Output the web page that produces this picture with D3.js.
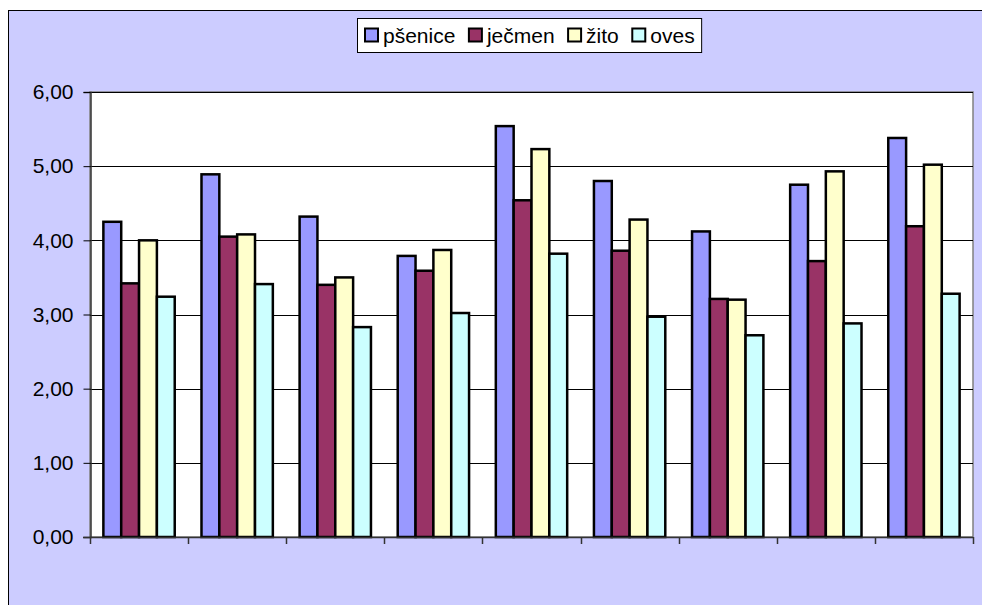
<!DOCTYPE html>
<html>
<head>
<meta charset="utf-8">
<script src="https://cdn.jsdelivr.net/npm/d3@7"></script>
<style>
  body { margin: 0; background: #ffffff; }
  svg { display: block; font-family: "Liberation Sans", Arial, sans-serif; }
</style>
</head>
<body>
<svg id="chart" width="982" height="605"></svg>
<script>
// data (9 unnamed groups)
const categories = ["1", "2", "3", "4", "5", "6", "7", "8", "9"];
const seriesNames = ["pšenice", "ječmen", "žito", "oves"];
const psenice = [4.25, 4.89, 4.32, 3.79, 5.54, 4.80, 4.12, 4.75, 5.38];
const jecmen  = [3.42, 4.05, 3.40, 3.59, 4.54, 3.86, 3.21, 3.72, 4.19];
const zito    = [4.00, 4.08, 3.50, 3.87, 5.23, 4.28, 3.20, 4.93, 5.02];
const oves    = [3.24, 3.41, 2.83, 3.02, 3.82, 2.97, 2.72, 2.88, 3.28];
const yTicks  = [0, 1, 2, 3, 4, 5, 6];

const seriesValues = [psenice, jecmen, zito, oves];
const colors = ["#9999ff", "#993366", "#ffffcc", "#ccffff"];

const svg = d3.select("#chart");

// chart area (extends past the picture on right / bottom)
svg.append("rect")
    .attr("x", 8.5).attr("y", 10.5)
    .attr("width", 1000).attr("height", 1000)
    .attr("fill", "#ccccff")
    .attr("stroke", "#000").attr("stroke-width", 1);

const plot = { left: 90, right: 973, top: 92, bottom: 537 };

const x0 = d3.scaleBand()
    .domain(categories)
    .range([plot.left, plot.right])
    .paddingInner(1.5 / 5.5)
    .paddingOuter(1.5 / 11);

const x1 = d3.scaleBand()
    .domain(seriesNames)
    .range([0, x0.bandwidth()]);

const y = d3.scaleLinear()
    .domain([0, 6])
    .range([plot.bottom, plot.top]);

// plot area
svg.append("rect")
    .attr("x", plot.left).attr("y", plot.top)
    .attr("width", plot.right - plot.left)
    .attr("height", plot.bottom - plot.top)
    .attr("fill", "#fff")
    .attr("stroke", "#808080").attr("stroke-width", 1.5);

// gridlines
svg.append("g")
    .selectAll("line")
    .data(yTicks.slice(1))
    .join("line")
    .attr("x1", plot.left).attr("x2", plot.right)
    .attr("y1", d => Math.round(y(d)) + 0.5)
    .attr("y2", d => Math.round(y(d)) + 0.5)
    .attr("stroke", "#000").attr("stroke-width", 1);

// bars
const groups = svg.append("g")
    .selectAll("g")
    .data(categories)
    .join("g")
    .attr("transform", d => `translate(${x0(d)},0)`);

groups.selectAll("rect")
    .data((c, i) => seriesNames.map((s, k) => ({ s, k, v: seriesValues[k][i] })))
    .join("rect")
    .attr("x", d => x1(d.s))
    .attr("width", x1.bandwidth())
    .attr("y", d => y(d.v))
    .attr("height", d => y(0) - y(d.v))
    .attr("fill", d => colors[d.k])
    .attr("stroke", "#000")
    .attr("stroke-width", 2.5);

// value axis
const yAxis = svg.append("g")
    .attr("transform", `translate(${plot.left + 0.5},0)`)
    .call(d3.axisLeft(y)
        .tickValues(yTicks)
        .tickSize(7)
        .tickPadding(10)
        .tickFormat(d => d3.format(".2f")(d).replace(".", ",")));
yAxis.select(".domain").attr("stroke", "#333").attr("stroke-width", 1.5);
yAxis.selectAll(".tick line").attr("stroke", "#000");
yAxis.selectAll("text")
    .attr("font-size", 21)
    .attr("fill", "#000")
    .attr("font-family", "Liberation Sans, Arial, sans-serif");

// category axis: ticks between groups, no labels
const step = x0.step();
const start = plot.left;
const boundaries = d3.range(categories.length + 1).map(i => start + i * step);
svg.append("line")
    .attr("x1", plot.left - 7).attr("x2", plot.right)
    .attr("y1", plot.bottom + 0.5).attr("y2", plot.bottom + 0.5)
    .attr("stroke", "#333").attr("stroke-width", 1.5);
svg.append("g")
    .selectAll("line")
    .data(boundaries)
    .join("line")
    .attr("x1", d => Math.round(d) + 0.5).attr("x2", d => Math.round(d) + 0.5)
    .attr("y1", plot.bottom).attr("y2", plot.bottom + 7)
    .attr("stroke", "#333").attr("stroke-width", 1.5);

// legend
const legend = svg.append("g");
const legBox = legend.append("rect")
    .attr("y", 18.5).attr("height", 34)
    .attr("fill", "#fff")
    .attr("stroke", "#000").attr("stroke-width", 1);

let cx = 365;
let lastEnd = 0;
seriesNames.forEach((name, k) => {
    legend.append("rect")
        .attr("x", cx).attr("y", 28.5)
        .attr("width", 13).attr("height", 13)
        .attr("fill", colors[k])
        .attr("stroke", "#000").attr("stroke-width", 2);
    const t = legend.append("text")
        .attr("x", cx + 18).attr("y", 43)
        .attr("font-size", 21)
        .attr("fill", "#000")
        .text(name);
    lastEnd = cx + 18 + t.node().getComputedTextLength();
    cx = lastEnd + 13.5;
});
legBox.attr("x", 357.5).attr("width", lastEnd + 7 - 357.5);
</script>
</body>
</html>
